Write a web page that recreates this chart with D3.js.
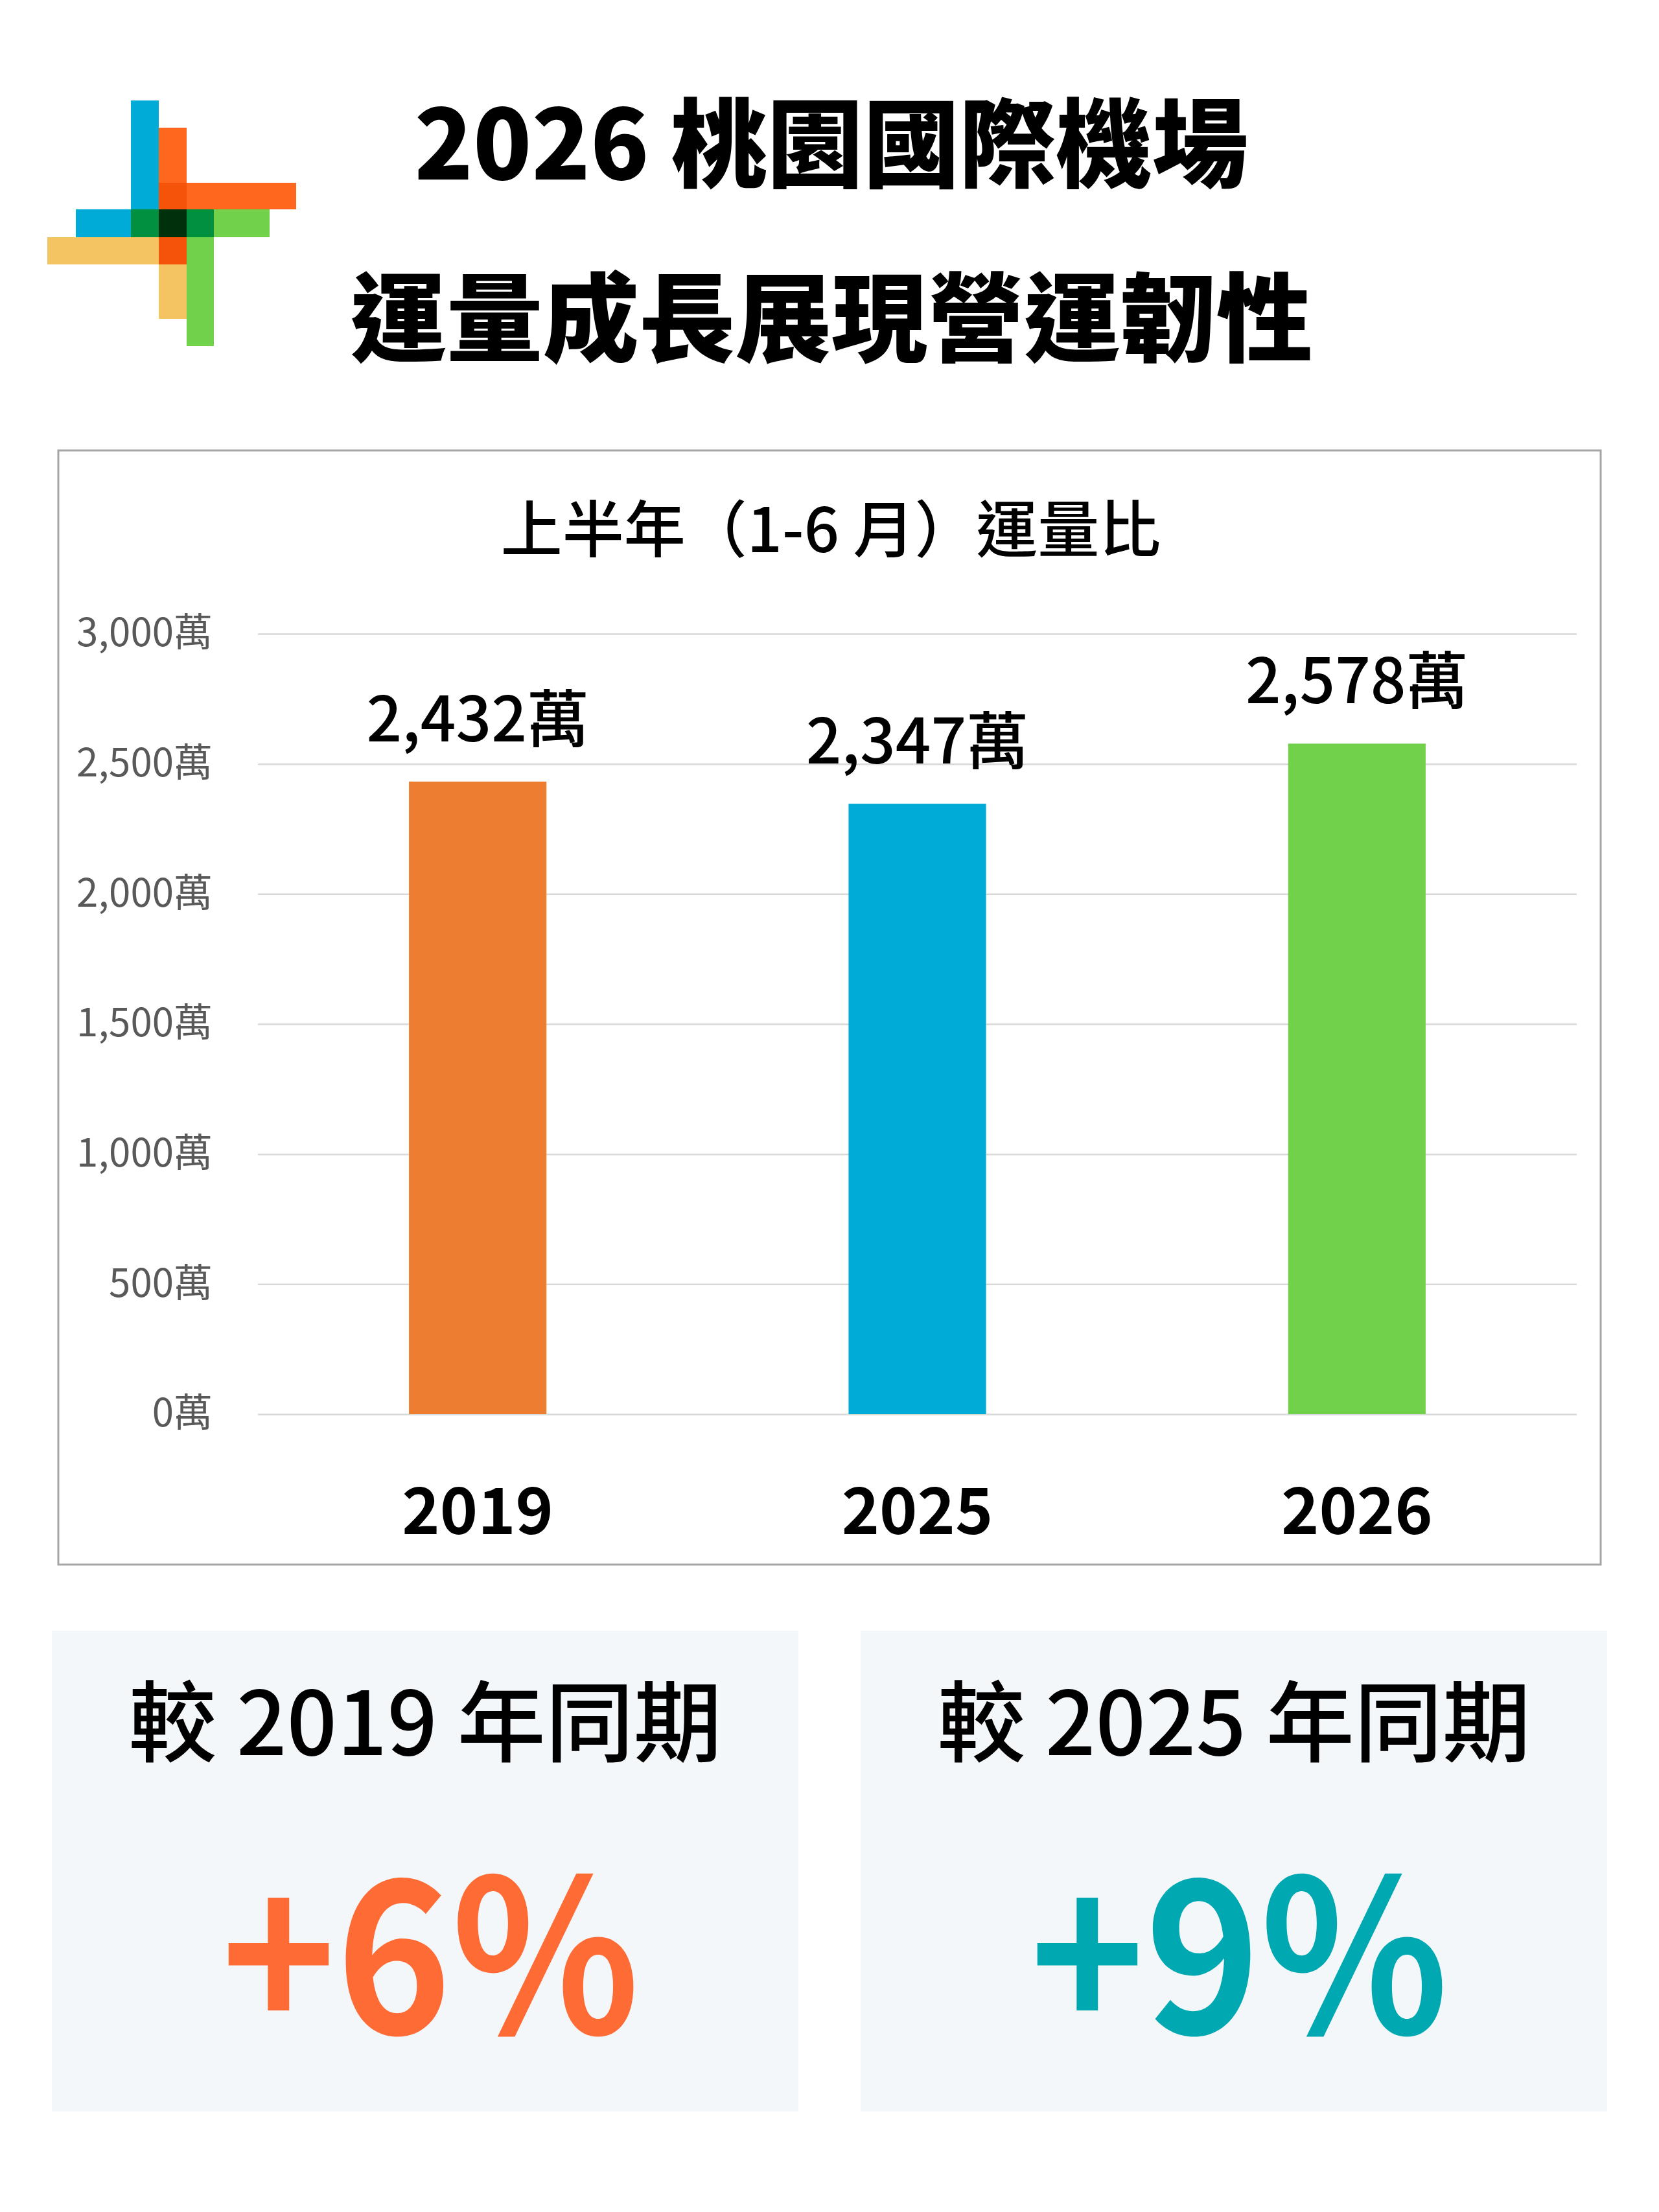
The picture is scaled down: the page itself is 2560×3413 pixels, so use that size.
<!DOCTYPE html>
<html>
<head>
<meta charset="utf-8">
<script src="https://cdn.jsdelivr.net/npm/d3@7/dist/d3.min.js"></script>
<style>
  html, body { margin: 0; padding: 0; background: #ffffff; }
  svg { display: block; }
  text { font-family: "Noto Sans CJK TC", "Noto Sans CJK SC", "Noto Sans", sans-serif; }
</style>
</head>
<body>
<svg id="chart" width="2560" height="3413"></svg>
<script>
// ---- data ----
const categories = ["2019", "2025", "2026"];
const values = [2432, 2347, 2578];
const valueLabels = ["2,432萬", "2,347萬", "2,578萬"];
const barColors = ["#ED7D31", "#00ACD7", "#71D14B"];
const yTicks = [0, 500, 1000, 1500, 2000, 2500, 3000];
const yTickLabels = ["0萬", "500萬", "1,000萬", "1,500萬", "2,000萬", "2,500萬", "3,000萬"];
const titleLines = ["2026 桃園國際機場", "運量成長展現營運韌性"];
const chartTitle = "上半年（1-6 月）運量比";
const compareTitles = ["較 2019 年同期", "較 2025 年同期"];
const compareValues = ["+6%", "+9%"];
const compareColors = ["#FF6B35", "#00A8B1"];

// ---- layout ----
const W = 2560, H = 3413;
const svg = d3.select("#chart");
svg.append("rect").attr("width", W).attr("height", H).attr("fill", "#ffffff");

// ---- logo (decorative) ----
const logoCells = [
  { x: 202, y: 155, w: 43, h: 168, c: "#00ABD8" },
  { x: 245, y: 197, w: 43, h: 85, c: "#FF671F" },
  { x: 245, y: 282, w: 43, h: 41, c: "#F5520A" },
  { x: 288, y: 282, w: 169, h: 41, c: "#FF671F" },
  { x: 117, y: 323, w: 85, h: 43, c: "#00ABD8" },
  { x: 202, y: 323, w: 43, h: 43, c: "#00903F" },
  { x: 245, y: 323, w: 43, h: 43, c: "#00300C" },
  { x: 288, y: 323, w: 42, h: 43, c: "#00903F" },
  { x: 330, y: 323, w: 86, h: 43, c: "#71D14B" },
  { x: 73, y: 366, w: 172, h: 42, c: "#F4C462" },
  { x: 245, y: 366, w: 43, h: 42, c: "#F5520A" },
  { x: 288, y: 366, w: 42, h: 168, c: "#71D14B" },
  { x: 245, y: 408, w: 43, h: 84, c: "#F4C462" }
];
svg.append("g").selectAll("rect").data(logoCells).join("rect")
  .attr("x", d => d.x).attr("y", d => d.y)
  .attr("width", d => d.w).attr("height", d => d.h)
  .attr("fill", d => d.c);

// ---- main title ----
svg.append("g").selectAll("text").data(titleLines).join("text")
  .attr("x", 1283)
  .attr("y", (d, i) => i === 0 ? 277 : 546)
  .attr("text-anchor", "middle")
  .attr("font-size", 148.5)
  .attr("font-weight", 900)
  .attr("fill", "#000000")
  .text(d => d);

// ---- chart frame ----
const frame = { x: 90, y: 695, w: 2380, h: 1719 };
svg.append("rect")
  .attr("x", frame.x).attr("y", frame.y)
  .attr("width", frame.w).attr("height", frame.h)
  .attr("fill", "#ffffff")
  .attr("stroke", "#A6A6A6").attr("stroke-width", 3);

svg.append("text")
  .attr("x", 1282).attr("y", 852)
  .attr("text-anchor", "middle")
  .attr("font-size", 95)
  .attr("font-weight", 500)
  .attr("fill", "#000000")
  .text(chartTitle);

// ---- scales ----
const plot = { left: 398, right: 2433, top: 978, bottom: 2182 };
const y = d3.scaleLinear().domain([0, 3000]).range([plot.bottom, plot.top]);
const x = d3.scaleBand().domain(categories).range([plot.left, plot.right]).padding(0);
const barW = x.bandwidth() * 0.3127;

// gridlines
const yAxis = d3.axisLeft(y).tickValues(yTicks).tickSize(-(plot.right - plot.left)).tickFormat("");
const gAxis = svg.append("g").attr("transform", `translate(${plot.left},0)`).call(yAxis);
gAxis.select(".domain").remove();
gAxis.selectAll(".tick line").attr("stroke", "#D9D9D9").attr("stroke-width", 2.5);

// tick labels
svg.append("g").selectAll("text").data(yTicks).join("text")
  .attr("x", 328)
  .attr("y", d => y(d))
  .attr("dy", "0.32em")
  .attr("text-anchor", "end")
  .attr("font-size", 60)
  .attr("font-weight", 400)
  .attr("fill", "#595959")
  .text((d, i) => yTickLabels[i]);

// bars
svg.append("g").selectAll("rect").data(values).join("rect")
  .attr("x", (d, i) => x(categories[i]) + x.bandwidth() / 2 - barW / 2)
  .attr("y", d => y(d))
  .attr("width", barW)
  .attr("height", d => y(0) - y(d))
  .attr("fill", (d, i) => barColors[i]);

// value labels
svg.append("g").selectAll("text").data(values).join("text")
  .attr("x", (d, i) => x(categories[i]) + x.bandwidth() / 2)
  .attr("y", d => y(d) - 62)
  .attr("text-anchor", "middle")
  .attr("font-size", 96)
  .attr("font-weight", 500)
  .attr("fill", "#000000")
  .text((d, i) => valueLabels[i]);

// category labels
svg.append("g").selectAll("text").data(categories).join("text")
  .attr("x", d => x(d) + x.bandwidth() / 2)
  .attr("y", 2367)
  .attr("text-anchor", "middle")
  .attr("font-size", 99)
  .attr("font-weight", 700)
  .attr("fill", "#000000")
  .text(d => d);

// ---- comparison boxes ----
const boxX = [80, 1328];
const boxW = 1152, boxY = 2516, boxH = 742;
const boxes = svg.append("g").selectAll("g").data(compareTitles).join("g");
boxes.append("rect")
  .attr("x", (d, i) => boxX[i]).attr("y", boxY)
  .attr("width", boxW).attr("height", boxH)
  .attr("fill", "#F3F7FA");
boxes.append("text")
  .attr("x", (d, i) => boxX[i] + boxW / 2)
  .attr("y", 2708)
  .attr("text-anchor", "middle")
  .attr("font-size", 136)
  .attr("font-weight", 500)
  .attr("fill", "#000000")
  .text(d => d);
boxes.append("text")
  .attr("x", (d, i) => boxX[i] + boxW / 2 + 8)
  .attr("y", 3138)
  .attr("text-anchor", "middle")
  .attr("font-size", 328)
  .attr("font-weight", 700)
  .attr("textLength", 646)
  .attr("lengthAdjust", "spacingAndGlyphs")
  .attr("fill", (d, i) => compareColors[i])
  .text((d, i) => compareValues[i]);
</script>
</body>
</html>
